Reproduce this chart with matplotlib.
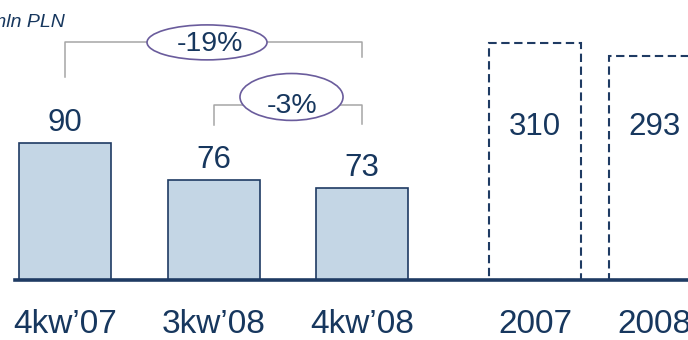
import matplotlib.pyplot as plt
import matplotlib.transforms as mtransforms
from matplotlib.patches import Ellipse

plt.rcParams['font.family'] = ['Liberation Sans', 'DejaVu Sans']

# quarterly results (mln PLN)
quarters = ["4kw\u201907", "3kw\u201908", "4kw\u201908"]
quarter_vals = [90, 76, 73]
# full-year results (mln PLN)
years = ["2007", "2008"]
year_vals = [310, 293]
# year-on-year / quarter-on-quarter changes
change_labels = ["-19%", "-3%"]

NAVY = '#17375E'
EDGE = '#1F3B63'
FILL = '#C4D6E5'
GREY = '#A6A6A6'
PURPLE = '#6A5C9C'

q_x = [0, 1, 2]
y_x = [3.165, 3.97]
bar_w = 0.62

fig = plt.figure(figsize=(6.88, 3.40), dpi=100)
ax = fig.add_axes([15 / 688, 60 / 340, 673 / 688, 280 / 340])

ax.bar(q_x, quarter_vals, width=bar_w, color=FILL, edgecolor=EDGE, linewidth=1.2, zorder=2)
ax.set_ylim(38.3, 144)
ax.set_xlim(-0.337, 4.195)

for x, v in zip(q_x, quarter_vals):
    ax.annotate(str(v), (x, v), xytext=(0, 9), textcoords='offset points',
                ha='center', va='baseline', fontsize=22.5, color=NAVY)

# annual totals on their own scale, dashed outline
ax2 = ax.twinx()
ax2.bar(y_x, year_vals, width=bar_w, fill=False, edgecolor=EDGE,
        linewidth=1.5, linestyle=(0, (4, 2.2)))
ax2.set_ylim(0, 366)
ax2.set_yticks([])
for s in ax2.spines.values():
    s.set_visible(False)
trans = mtransforms.blended_transform_factory(ax2.transData, ax2.transAxes)
for x, v in zip(y_x, year_vals):
    ax2.text(x, 0.546, str(v), transform=trans, ha='center', va='center',
             fontsize=22.5, color=NAVY)

# axes styling
ax.set_yticks([])
ax.set_xticks(q_x + y_x, quarters + years)
ax.tick_params(axis='x', length=0, pad=21, labelsize=24, labelcolor=NAVY)
for side in ['top', 'left', 'right']:
    ax.spines[side].set_visible(False)
ax.spines['bottom'].set_linewidth(2.6)
ax.spines['bottom'].set_color(EDGE)
ax.spines['bottom'].set_zorder(4)

# change brackets with oval badges
brackets = [
    ([q_x[0], q_x[0], q_x[2], q_x[2]], [114.9, 128.1, 128.1, 122.5]),
    ([q_x[1], q_x[1], q_x[2], q_x[2]], [96.8, 104.3, 104.3, 97.2]),
]
ovals = [((0.956, 128.0), 0.808, 13.2), ((1.525, 107.4), 0.694, 17.7)]
label_pos = [(0.976, 127.4), (1.532, 103.8)]
for (bx, by), (c, w, h), (tx, ty), lab in zip(brackets, ovals, label_pos, change_labels):
    ax.plot(bx, by, color=GREY, lw=1.1, zorder=2)
    ax.add_patch(Ellipse(c, w, h, facecolor='white', edgecolor=PURPLE, lw=1.2, zorder=3))
    ax.text(tx, ty, lab, ha='center', va='center', fontsize=20.5, color=NAVY, zorder=4)

fig.text(65 / 688, (340 - 27) / 340, "mln PLN", ha='right', va='baseline',
         fontsize=14, style='italic', color=NAVY)

fig.savefig('out.png', dpi=100)
